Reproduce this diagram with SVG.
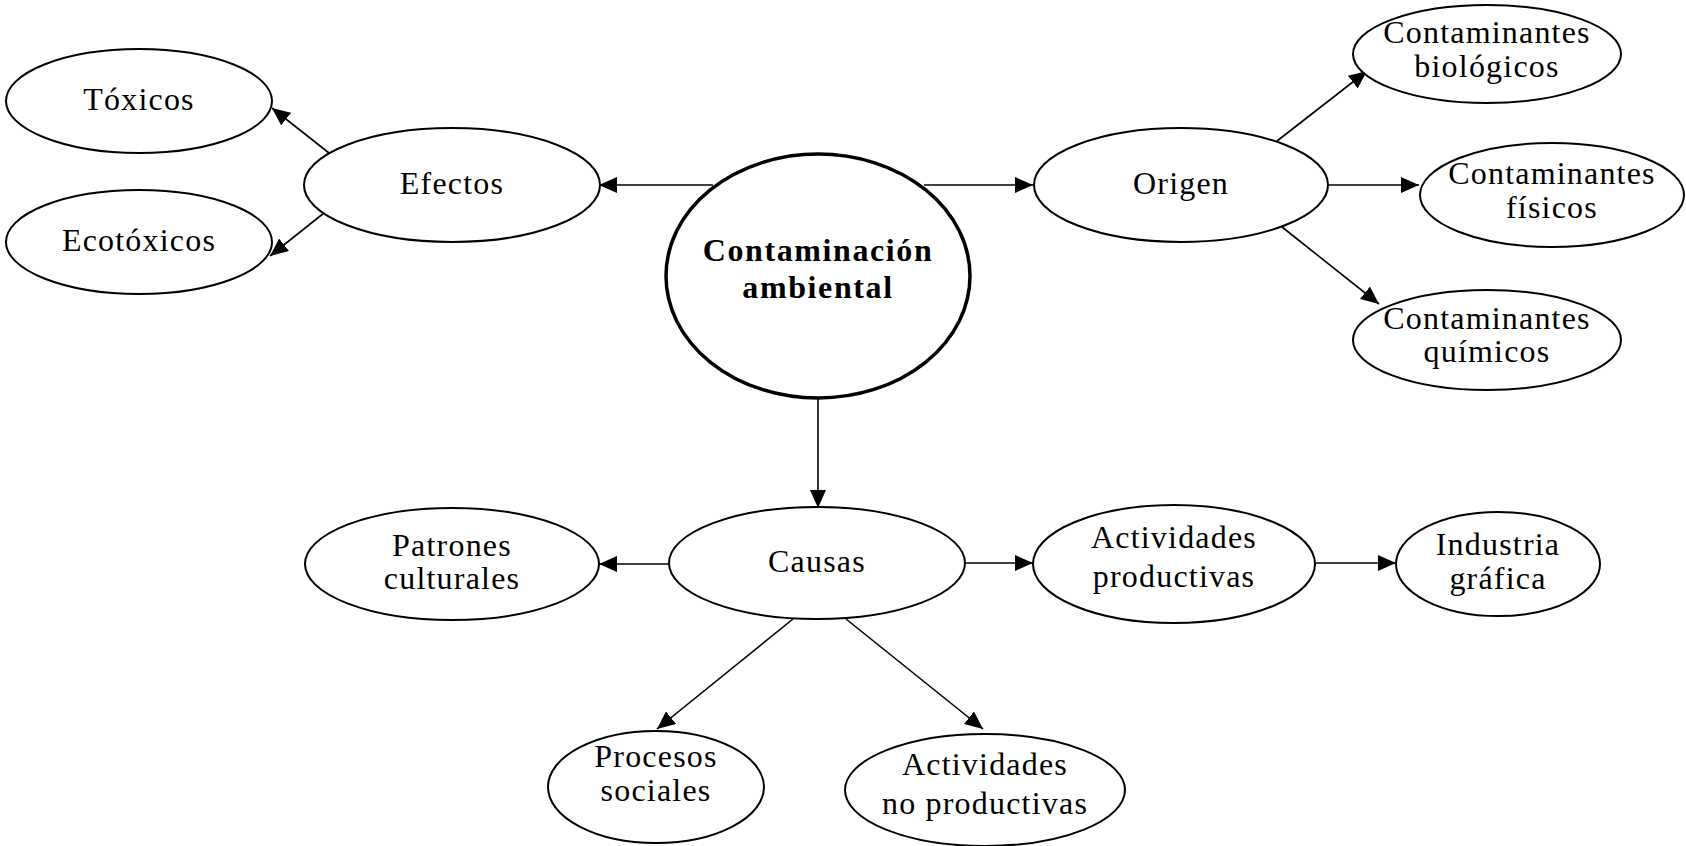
<svg xmlns="http://www.w3.org/2000/svg" width="1686" height="846" viewBox="0 0 1686 846">
<style>
  .node ellipse { fill: #fff; stroke: #000; stroke-width: 2; }
  .node text { font-family: "Liberation Serif", "Times New Roman", serif; font-size: 32px; letter-spacing: 1.2px; text-anchor: middle; fill: #000; }
  #n-center ellipse { stroke-width: 3.5; }
  #n-center text { font-weight: bold; letter-spacing: 1.6px; }
  .edges line { stroke: #000; stroke-width: 1.6; marker-end: url(#arrow); }
</style>
<defs>
  <marker id="arrow" markerUnits="userSpaceOnUse" markerWidth="19" markerHeight="16" refX="18" refY="8" orient="auto">
    <path d="M0,0 L18,8 L0,16 z" fill="#000"/>
  </marker>
</defs>
<rect width="1686" height="846" fill="#fff"/>
<g class="edges" id="connectors">
  <line x1="713" y1="185" x2="599" y2="185"/>
  <line x1="924" y1="185" x2="1033" y2="185"/>
  <line x1="329" y1="153" x2="272" y2="108"/>
  <line x1="324" y1="213" x2="270" y2="256"/>
  <line x1="1277" y1="141" x2="1367" y2="71"/>
  <line x1="1328" y1="185" x2="1419" y2="185"/>
  <line x1="1282" y1="227" x2="1379" y2="304"/>
  <line x1="818" y1="398" x2="818" y2="508"/>
  <line x1="670" y1="564" x2="599" y2="564"/>
  <line x1="965" y1="563" x2="1033" y2="563"/>
  <line x1="1316" y1="563" x2="1396" y2="563"/>
  <line x1="793" y1="619" x2="657" y2="729"/>
  <line x1="846" y1="619" x2="983" y2="729"/>
</g>
<g class="node" id="n-toxicos">
  <ellipse cx="139" cy="101" rx="133" ry="52"/>
  <text x="139" y="110">Tóxicos</text>
</g>
<g class="node" id="n-ecotoxicos">
  <ellipse cx="139" cy="242" rx="133" ry="52"/>
  <text x="139" y="251">Ecotóxicos</text>
</g>
<g class="node" id="n-efectos">
  <ellipse cx="452" cy="185" rx="148" ry="57"/>
  <text x="452" y="194">Efectos</text>
</g>
<g class="node" id="n-center">
  <ellipse cx="818" cy="276" rx="152" ry="122"/>
  <text x="818" y="261">Contaminación</text>
  <text x="818" y="298">ambiental</text>
</g>
<g class="node" id="n-origen">
  <ellipse cx="1181" cy="185" rx="147" ry="57"/>
  <text x="1181" y="194">Origen</text>
</g>
<g class="node" id="n-biologicos">
  <ellipse cx="1487" cy="54" rx="134" ry="49"/>
  <text x="1487" y="43">Contaminantes</text>
  <text x="1487" y="77">biológicos</text>
</g>
<g class="node" id="n-fisicos">
  <ellipse cx="1552" cy="195" rx="132" ry="52"/>
  <text x="1552" y="184">Contaminantes</text>
  <text x="1552" y="218">físicos</text>
</g>
<g class="node" id="n-quimicos">
  <ellipse cx="1487" cy="340" rx="134" ry="50"/>
  <text x="1487" y="329">Contaminantes</text>
  <text x="1487" y="362">químicos</text>
</g>
<g class="node" id="n-causas">
  <ellipse cx="817" cy="563" rx="148" ry="56"/>
  <text x="817" y="572">Causas</text>
</g>
<g class="node" id="n-patrones">
  <ellipse cx="452" cy="564" rx="147" ry="56"/>
  <text x="452" y="556">Patrones</text>
  <text x="452" y="589">culturales</text>
</g>
<g class="node" id="n-productivas">
  <ellipse cx="1174" cy="564" rx="141" ry="59"/>
  <text x="1174" y="548">Actividades</text>
  <text x="1174" y="587">productivas</text>
</g>
<g class="node" id="n-industria">
  <ellipse cx="1498" cy="564" rx="102" ry="52"/>
  <text x="1498" y="555">Industria</text>
  <text x="1498" y="589">gráfica</text>
</g>
<g class="node" id="n-procesos">
  <ellipse cx="656" cy="787" rx="108" ry="56"/>
  <text x="656" y="767">Procesos</text>
  <text x="656" y="801">sociales</text>
</g>
<g class="node" id="n-noproductivas">
  <ellipse cx="985" cy="790" rx="140" ry="56"/>
  <text x="985" y="775">Actividades</text>
  <text x="985" y="814">no productivas</text>
</g>
</svg>
